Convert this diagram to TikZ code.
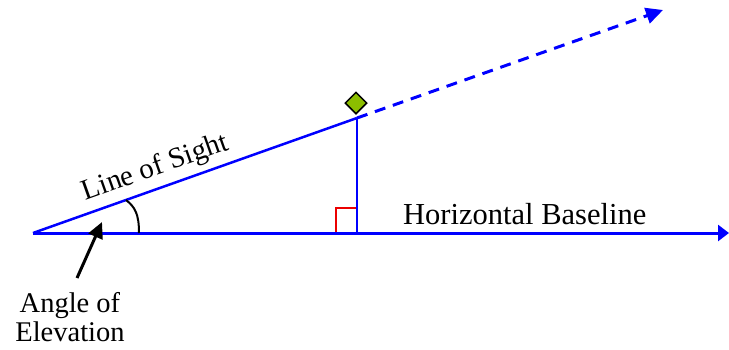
\documentclass[tikz,border=0pt]{standalone}
\usepackage{fontspec}
\setmainfont{Liberation Serif}
\usetikzlibrary{arrows.meta,shapes.geometric}
\definecolor{lineblue}{RGB}{0,0,255}
\definecolor{markgreen}{RGB}{140,190,0}
\definecolor{squarered}{RGB}{235,0,0}
\begin{document}
\begin{tikzpicture}[x=1pt,y=-1pt,
  blueaxis/.style={draw=lineblue,line width=3pt},
  sightline/.style={draw=lineblue,line width=2.5pt},
  heightline/.style={draw=lineblue,line width=2pt},
  rightmark/.style={draw=squarered,line width=2pt},
  anglearc/.style={draw=black,line width=2pt},
  pointer/.style={draw=black,line width=3pt,-{Triangle[length=16pt,width=15pt]}},
  label/.style={inner sep=0pt,text=black}]
\useasboundingbox (0,0) rectangle (729,349);
\coordinate (O) at (33,233);
\coordinate (P) at (357,118);
\coordinate (F) at (357,233);
\coordinate (E) at (729,233);
\coordinate (T) at (663,10);
\coordinate (AS) at (77,278);
\coordinate (AT) at (102,222);
% right angle mark
\draw[rightmark] (336,233) |- (357,208);
% baseline
\draw[blueaxis,-{Triangle[length=11pt,width=16pt]}] (O) -- (E);
% line of sight
\draw[sightline] (O) -- (P);
\draw[sightline,line width=3pt,dash pattern=on 11pt off 8pt,-{Triangle[length=17pt,width=16pt]}] (P) -- (T);
% height
\draw[heightline] (P) -- (F);
% angle arc
\draw[anglearc] (139,233) .. controls (139,214) and (135,207) .. (126,200);
% object
\node[diamond,draw=black,fill=markgreen,line width=1.5pt,minimum size=22pt,inner sep=0pt] (D) at (356,103) {};
% labels
\node[label,font=\fontsize{30.5}{30.5}\selectfont,anchor=base west] (HB) at (403,224) {Horizontal Baseline};
\node[label,font=\fontsize{29}{29}\selectfont,anchor=base,rotate=19.5] (LS) at (158,175) {Line of Sight};
\node[label,font=\fontsize{28.5}{29}\selectfont,align=center] (AE) at (70,317) {Angle of\\Elevation};
\draw[pointer] (AS) -- (AT);
\end{tikzpicture}
\end{document}
